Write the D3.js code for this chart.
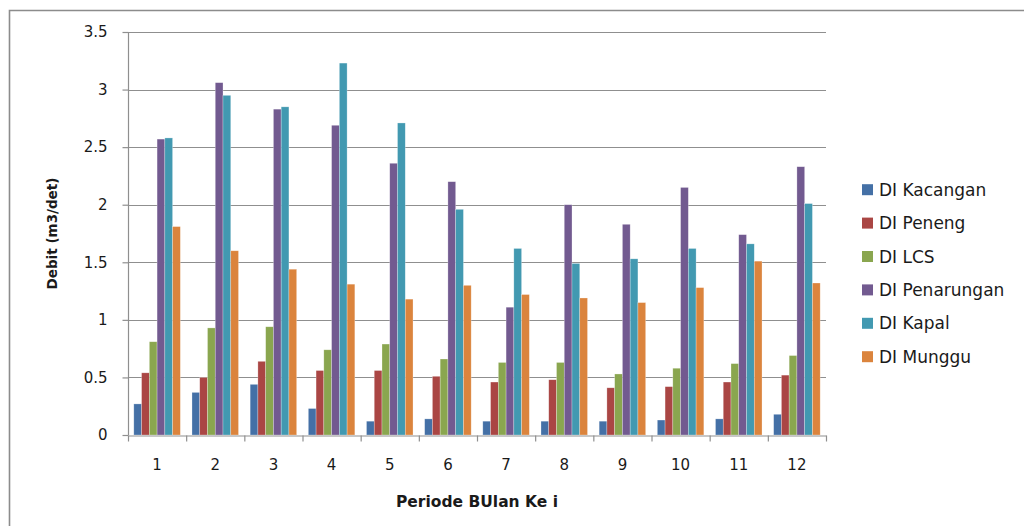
<!DOCTYPE html>
<html>
<head>
<meta charset="utf-8">
<script src="https://cdn.jsdelivr.net/npm/d3@7"></script>
<style>
  html, body { margin: 0; padding: 0; background: #fff; }
  svg { display: block; }
  text { font-family: "DejaVu Sans", sans-serif; fill: #1a1a1a; }
</style>
</head>
<body>
<svg id="chart" width="1024" height="526"></svg>
<script>
// Monthly discharge per irrigation area (m3/det)
const months = ["1","2","3","4","5","6","7","8","9","10","11","12"];
const seriesNames = ["DI Kacangan","DI Peneng","DI LCS","DI Penarungan","DI Kapal","DI Munggu"];
const kacangan   = [0.27,0.37,0.44,0.23,0.12,0.14,0.12,0.12,0.12,0.13,0.14,0.18];
const peneng     = [0.54,0.50,0.64,0.56,0.56,0.51,0.46,0.48,0.41,0.42,0.46,0.52];
const lcs        = [0.81,0.93,0.94,0.74,0.79,0.66,0.63,0.63,0.53,0.58,0.62,0.69];
const penarungan = [2.57,3.06,2.83,2.69,2.36,2.20,1.11,2.00,1.83,2.15,1.74,2.33];
const kapal      = [2.58,2.95,2.85,3.23,2.71,1.96,1.62,1.49,1.53,1.62,1.66,2.01];
const munggu     = [1.81,1.60,1.44,1.31,1.18,1.30,1.22,1.19,1.15,1.28,1.51,1.32];
const yTicks = [0,0.5,1,1.5,2,2.5,3,3.5];
const colors = ["#4470A6","#AA4644","#8AA64F","#725A90","#4299B1","#DB843D"];

const seriesValues = [kacangan, peneng, lcs, penarungan, kapal, munggu];

const svg = d3.select("#chart");

// outer chart frame (runs off the right and bottom edges)
svg.append("path")
  .attr("d", "M9.5,1000 V10.5 H1100")
  .attr("fill", "none")
  .attr("stroke", "#8c8c8c")
  .attr("stroke-width", 1.6);

const plot = { left: 128, right: 826, top: 32, bottom: 435 };

const x = d3.scaleBand().domain(months).range([plot.left, plot.right]).paddingInner(0).paddingOuter(0);
const bw = x.bandwidth();
const xs = d3.scaleBand().domain(seriesNames).range([bw * 0.1, bw * 0.9]).padding(0);
const y = d3.scaleLinear().domain([0, 3.5]).range([plot.bottom, plot.top]);

// horizontal gridlines
svg.append("g")
  .selectAll("line")
  .data(yTicks.filter(d => d > 0))
  .join("line")
  .attr("x1", plot.left).attr("x2", plot.right)
  .attr("y1", d => Math.round(y(d)) + 0.5).attr("y2", d => Math.round(y(d)) + 0.5)
  .attr("stroke", "#8f8f8f").attr("stroke-width", 1.2);

// bars
const groups = svg.append("g")
  .selectAll("g")
  .data(months)
  .join("g")
  .attr("transform", d => `translate(${x(d)},0)`);

groups.selectAll("rect")
  .data((m, i) => seriesNames.map((s, k) => ({ s, k, v: seriesValues[k][i] })))
  .join("rect")
  .attr("x", d => xs(d.s))
  .attr("width", xs.bandwidth())
  .attr("y", d => y(d.v))
  .attr("height", d => y(0) - y(d.v))
  .attr("fill", d => colors[d.k])
  .attr("stroke", "rgba(255,255,255,0.45)")
  .attr("stroke-width", 0.6);

// y axis
const yAxis = svg.append("g")
  .attr("transform", `translate(${plot.left + 0.5},0)`)
  .call(d3.axisLeft(y).tickValues(yTicks).tickFormat(d => String(d)).tickSize(6).tickPadding(15));
yAxis.select(".domain").attr("stroke", "#8f8f8f").attr("stroke-width", 1.2).attr("d", `M0,${plot.top}V${plot.bottom}`);
yAxis.selectAll(".tick line").attr("stroke", "#8f8f8f").attr("stroke-width", 1.2);
yAxis.selectAll(".tick text").style("font-size", "15px").attr("fill", "#1a1a1a")
  .style("font-family", '"DejaVu Sans", sans-serif');

// x axis: boundary ticks on a linear index scale, labels centred on each month
const xb = d3.scaleLinear().domain([0, months.length]).range([plot.left, plot.right]);
const xAxisTicks = svg.append("g")
  .attr("transform", `translate(0,${plot.bottom + 0.5})`)
  .call(d3.axisBottom(xb).tickValues(d3.range(months.length + 1)).tickFormat("").tickSize(6).tickSizeOuter(0));
xAxisTicks.select(".domain").attr("stroke", "#8f8f8f").attr("stroke-width", 1.2);
xAxisTicks.selectAll(".tick line").attr("stroke", "#8f8f8f").attr("stroke-width", 1.2);

const xAxisLabels = svg.append("g")
  .attr("transform", `translate(0,${plot.bottom})`)
  .call(d3.axisBottom(x).tickSize(0).tickPadding(24));
xAxisLabels.select(".domain").remove();
xAxisLabels.selectAll(".tick text").style("font-size", "15px").attr("fill", "#1a1a1a")
  .style("font-family", '"DejaVu Sans", sans-serif');

// axis titles
svg.append("text")
  .attr("x", (plot.left + plot.right) / 2)
  .attr("y", 507)
  .attr("text-anchor", "middle")
  .style("font-size", "15.5px")
  .style("font-weight", "bold")
  .text("Periode BUlan Ke i");

svg.append("text")
  .attr("transform", `translate(57,${(plot.top + plot.bottom) / 2}) rotate(-90)`)
  .attr("text-anchor", "middle")
  .style("font-size", "13.5px")
  .style("font-weight", "bold")
  .text("Debit (m3/det)");

// legend
const legend = svg.append("g")
  .selectAll("g")
  .data(seriesNames)
  .join("g")
  .attr("transform", (d, i) => `translate(862,${189.7 + i * 33.4})`);
legend.append("rect")
  .attr("x", 0).attr("y", -5.5)
  .attr("width", 11).attr("height", 11)
  .attr("fill", (d, i) => colors[i]);
legend.append("text")
  .attr("x", 17).attr("y", 6)
  .style("font-size", "17px")
  .text(d => d);
</script>
</body>
</html>
